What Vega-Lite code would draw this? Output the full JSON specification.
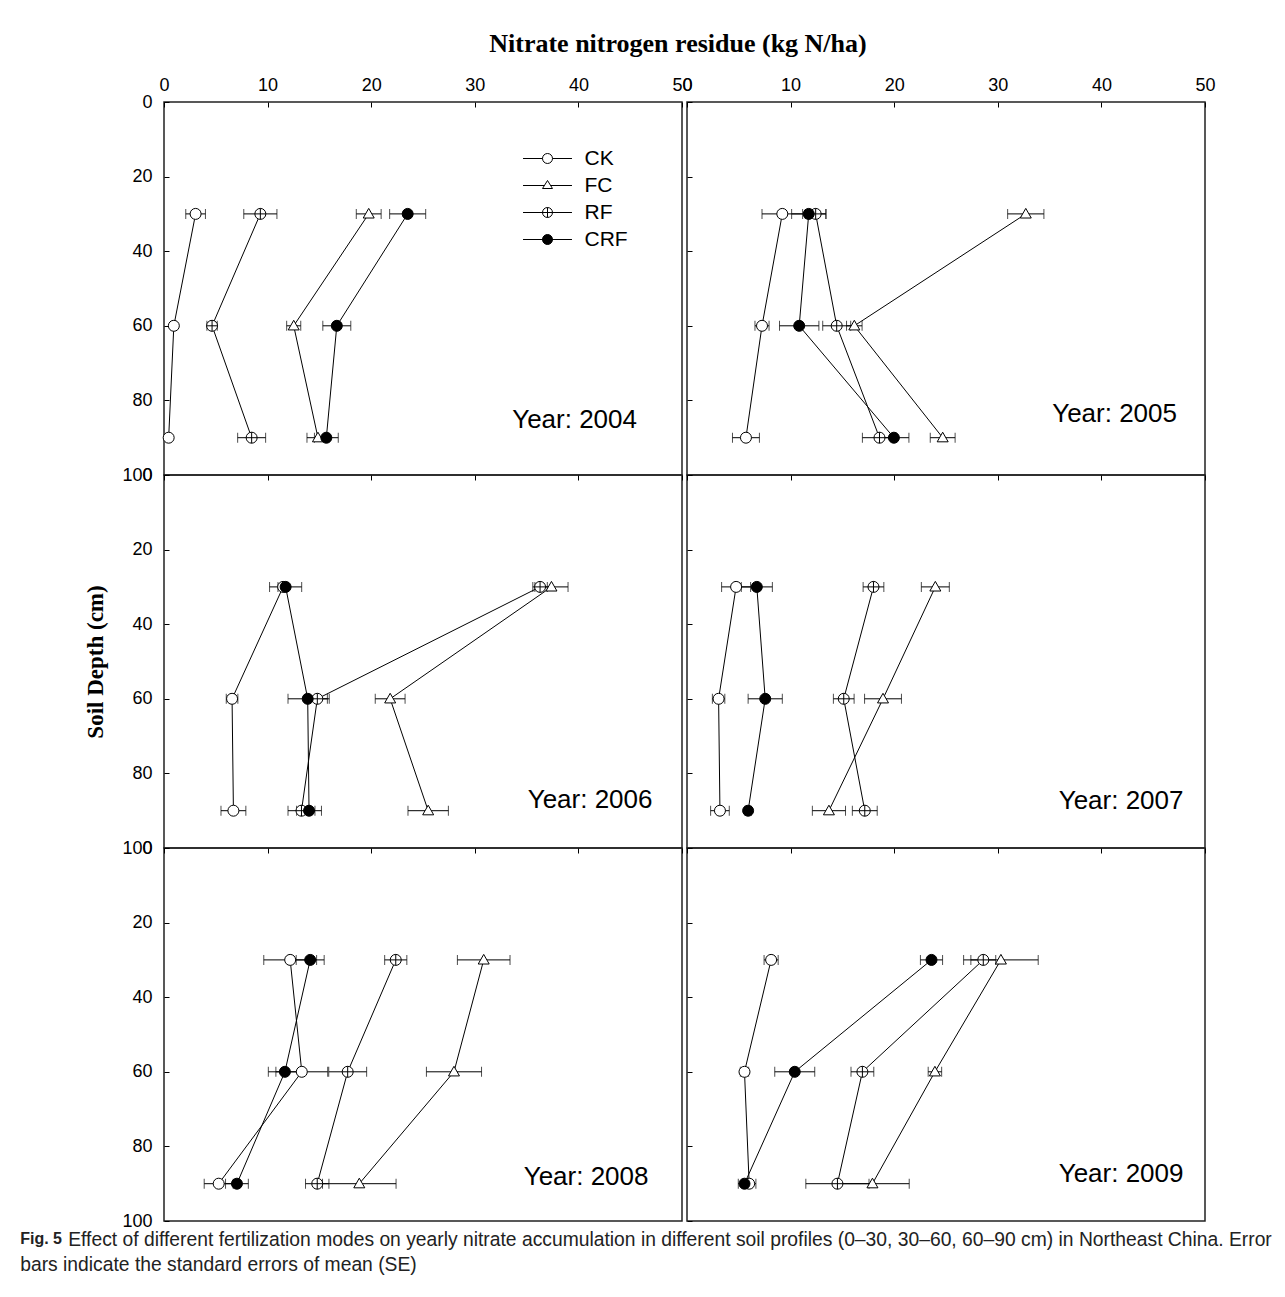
{
  "$schema": "https://vega.github.io/schema/vega-lite/v6.json",
  "background": "white",
  "padding": {"left": 20, "top": 31, "right": 5, "bottom": 5},
  "data": {"values": [
    {"year": 2004, "trt": "CK", "depth": 30, "n": 3.05, "lo": 2.1, "hi": 4.0},
    {"year": 2004, "trt": "CK", "depth": 60, "n": 0.95, "lo": 0.75, "hi": 1.15},
    {"year": 2004, "trt": "CK", "depth": 90, "n": 0.45, "lo": 0.3, "hi": 0.6},
    {"year": 2004, "trt": "FC", "depth": 30, "n": 19.76, "lo": 18.56, "hi": 20.96},
    {"year": 2004, "trt": "FC", "depth": 60, "n": 12.52, "lo": 11.84, "hi": 13.2},
    {"year": 2004, "trt": "FC", "depth": 90, "n": 14.86, "lo": 13.8, "hi": 15.9},
    {"year": 2004, "trt": "RF", "depth": 30, "n": 9.3, "lo": 7.7, "hi": 10.9},
    {"year": 2004, "trt": "RF", "depth": 60, "n": 4.64, "lo": 4.14, "hi": 5.14},
    {"year": 2004, "trt": "RF", "depth": 90, "n": 8.46, "lo": 7.11, "hi": 9.81},
    {"year": 2004, "trt": "CRF", "depth": 30, "n": 23.52, "lo": 21.78, "hi": 25.26},
    {"year": 2004, "trt": "CRF", "depth": 60, "n": 16.68, "lo": 15.33, "hi": 18.03},
    {"year": 2004, "trt": "CRF", "depth": 90, "n": 15.67, "lo": 14.52, "hi": 16.82},
    {"year": 2005, "trt": "CK", "depth": 30, "n": 9.2, "lo": 7.24, "hi": 11.16},
    {"year": 2005, "trt": "CK", "depth": 60, "n": 7.24, "lo": 6.56, "hi": 7.92},
    {"year": 2005, "trt": "CK", "depth": 90, "n": 5.69, "lo": 4.39, "hi": 6.99},
    {"year": 2005, "trt": "FC", "depth": 30, "n": 32.7, "lo": 30.95, "hi": 34.45},
    {"year": 2005, "trt": "FC", "depth": 60, "n": 16.15, "lo": 15.4, "hi": 16.9},
    {"year": 2005, "trt": "FC", "depth": 90, "n": 24.68, "lo": 23.48, "hi": 25.88},
    {"year": 2005, "trt": "RF", "depth": 30, "n": 12.42, "lo": 11.42, "hi": 13.42},
    {"year": 2005, "trt": "RF", "depth": 60, "n": 14.45, "lo": 13.1, "hi": 15.8},
    {"year": 2005, "trt": "RF", "depth": 90, "n": 18.58, "lo": 16.93, "hi": 20.23},
    {"year": 2005, "trt": "CRF", "depth": 30, "n": 11.75, "lo": 10.1, "hi": 13.4},
    {"year": 2005, "trt": "CRF", "depth": 60, "n": 10.83, "lo": 8.93, "hi": 12.73},
    {"year": 2005, "trt": "CRF", "depth": 90, "n": 19.97, "lo": 18.52, "hi": 21.42},
    {"year": 2006, "trt": "CK", "depth": 30, "n": 11.5, "lo": 11.0, "hi": 12.0},
    {"year": 2006, "trt": "CK", "depth": 60, "n": 6.57, "lo": 6.01, "hi": 7.13},
    {"year": 2006, "trt": "CK", "depth": 90, "n": 6.7, "lo": 5.5, "hi": 7.9},
    {"year": 2006, "trt": "FC", "depth": 30, "n": 37.4, "lo": 35.8, "hi": 39.0},
    {"year": 2006, "trt": "FC", "depth": 60, "n": 21.83, "lo": 20.39, "hi": 23.27},
    {"year": 2006, "trt": "FC", "depth": 90, "n": 25.5, "lo": 23.55, "hi": 27.45},
    {"year": 2006, "trt": "RF", "depth": 30, "n": 36.3, "lo": 35.6, "hi": 37.0},
    {"year": 2006, "trt": "RF", "depth": 60, "n": 14.8, "lo": 13.65, "hi": 15.95},
    {"year": 2006, "trt": "RF", "depth": 90, "n": 13.27, "lo": 11.97, "hi": 14.57},
    {"year": 2006, "trt": "CRF", "depth": 30, "n": 11.74, "lo": 10.19, "hi": 13.29},
    {"year": 2006, "trt": "CRF", "depth": 60, "n": 13.87, "lo": 11.97, "hi": 15.77},
    {"year": 2006, "trt": "CRF", "depth": 90, "n": 14.0, "lo": 12.8, "hi": 15.2},
    {"year": 2007, "trt": "CK", "depth": 30, "n": 4.74, "lo": 3.34, "hi": 6.14},
    {"year": 2007, "trt": "CK", "depth": 60, "n": 3.05, "lo": 2.45, "hi": 3.65},
    {"year": 2007, "trt": "CK", "depth": 90, "n": 3.18, "lo": 2.28, "hi": 4.08},
    {"year": 2007, "trt": "FC", "depth": 30, "n": 23.97, "lo": 22.62, "hi": 25.32},
    {"year": 2007, "trt": "FC", "depth": 60, "n": 18.92, "lo": 17.14, "hi": 20.7},
    {"year": 2007, "trt": "FC", "depth": 90, "n": 13.7, "lo": 12.1, "hi": 15.3},
    {"year": 2007, "trt": "RF", "depth": 30, "n": 18.0, "lo": 17.0, "hi": 19.0},
    {"year": 2007, "trt": "RF", "depth": 60, "n": 15.13, "lo": 14.13, "hi": 16.13},
    {"year": 2007, "trt": "RF", "depth": 90, "n": 17.16, "lo": 15.96, "hi": 18.36},
    {"year": 2007, "trt": "CRF", "depth": 30, "n": 6.74, "lo": 5.24, "hi": 8.24},
    {"year": 2007, "trt": "CRF", "depth": 60, "n": 7.55, "lo": 5.9, "hi": 9.2},
    {"year": 2007, "trt": "CRF", "depth": 90, "n": 5.9, "lo": 5.6, "hi": 6.2},
    {"year": 2008, "trt": "CK", "depth": 30, "n": 12.18, "lo": 9.63, "hi": 14.73},
    {"year": 2008, "trt": "CK", "depth": 60, "n": 13.3, "lo": 10.8, "hi": 15.8},
    {"year": 2008, "trt": "CK", "depth": 90, "n": 5.28, "lo": 3.88, "hi": 6.68},
    {"year": 2008, "trt": "FC", "depth": 30, "n": 30.86, "lo": 28.32, "hi": 33.4},
    {"year": 2008, "trt": "FC", "depth": 60, "n": 27.99, "lo": 25.33, "hi": 30.65},
    {"year": 2008, "trt": "FC", "depth": 90, "n": 18.85, "lo": 15.3, "hi": 22.4},
    {"year": 2008, "trt": "RF", "depth": 30, "n": 22.37, "lo": 21.3, "hi": 23.44},
    {"year": 2008, "trt": "RF", "depth": 60, "n": 17.73, "lo": 15.9, "hi": 19.56},
    {"year": 2008, "trt": "RF", "depth": 90, "n": 14.79, "lo": 13.66, "hi": 15.92},
    {"year": 2008, "trt": "CRF", "depth": 30, "n": 14.11, "lo": 12.76, "hi": 15.46},
    {"year": 2008, "trt": "CRF", "depth": 60, "n": 11.67, "lo": 10.07, "hi": 13.27},
    {"year": 2008, "trt": "CRF", "depth": 90, "n": 7.04, "lo": 5.94, "hi": 8.14},
    {"year": 2009, "trt": "CK", "depth": 30, "n": 8.12, "lo": 7.44, "hi": 8.8},
    {"year": 2009, "trt": "CK", "depth": 60, "n": 5.55, "lo": 5.15, "hi": 5.95},
    {"year": 2009, "trt": "CK", "depth": 90, "n": 6.0, "lo": 5.35, "hi": 6.65},
    {"year": 2009, "trt": "FC", "depth": 30, "n": 30.3, "lo": 26.7, "hi": 33.9},
    {"year": 2009, "trt": "FC", "depth": 60, "n": 23.93, "lo": 23.28, "hi": 24.58},
    {"year": 2009, "trt": "FC", "depth": 90, "n": 17.9, "lo": 14.35, "hi": 21.45},
    {"year": 2009, "trt": "RF", "depth": 30, "n": 28.6, "lo": 27.4, "hi": 29.8},
    {"year": 2009, "trt": "RF", "depth": 60, "n": 16.93, "lo": 15.83, "hi": 18.03},
    {"year": 2009, "trt": "RF", "depth": 90, "n": 14.52, "lo": 11.47, "hi": 17.57},
    {"year": 2009, "trt": "CRF", "depth": 30, "n": 23.6, "lo": 22.53, "hi": 24.67},
    {"year": 2009, "trt": "CRF", "depth": 60, "n": 10.4, "lo": 8.47, "hi": 12.33},
    {"year": 2009, "trt": "CRF", "depth": 90, "n": 5.55, "lo": 4.95, "hi": 6.15}
  ]},
  "title": {"text": "Fig. 5", "orient": "bottom", "anchor": "start", "font": "Liberation Sans", "fontSize": 16, "fontWeight": "bold", "color": "#222", "offset": -44},
  "vconcat": [
    {
      "title": {"text": "bars indicate the standard errors of mean (SE)", "orient": "bottom", "anchor": "start", "font": "Liberation Sans", "fontSize": 19.3, "fontWeight": "normal", "color": "#222", "dx": -48, "offset": 6},
      "vconcat": [
        {
          "title": {"text": "Effect of different fertilization modes on yearly nitrate accumulation in different soil profiles (0–30, 30–60, 60–90 cm) in Northeast China. Error", "orient": "bottom", "anchor": "start", "font": "Liberation Sans", "fontSize": 19.3, "fontWeight": "normal", "color": "#222", "dx": -16, "offset": 0},
          "vconcat": [
            {
              "title": {"text": "Nitrate nitrogen residue (kg N/ha)", "anchor": "middle", "font": "Liberation Serif", "fontSize": 26, "fontWeight": "bold", "color": "black", "dx": 28, "offset": 18},
              "columns": 2,
              "bounds": "flush",
              "spacing": {"row": 0, "column": 5},
              "resolve": {"scale": {"shape": "independent", "fill": "independent", "stroke": "independent"}, "legend": {"shape": "independent", "fill": "independent", "stroke": "independent"}},
              "concat": [
                {
                  "width": 518, "height": 373,
                  "title": {"text": "Year: 2004", "orient": "bottom", "anchor": "end", "offset": -56, "dx": -55, "baseline": "alphabetic", "font": "Liberation Sans", "fontSize": 26, "fontWeight": "normal", "color": "black"},
                  "transform": [{"filter": "datum.year == 2004"}],
                  "resolve": {"scale": {"shape": "independent", "fill": "independent", "stroke": "independent"}, "legend": {"shape": "independent", "fill": "independent", "stroke": "independent"}},
                  "encoding": {"y": {"field": "depth", "type": "quantitative", "scale": {"domain": [0, 100], "reverse": true, "nice": false, "zero": false}, "axis": {"orient": "left", "values": [0, 20, 40, 60, 80, 100], "title": null, "labels": true, "tickSize": -5, "labelPadding": 17}}},
                  "layer": [
                    {"mark": {"type": "errorbar", "ticks": {"size": 10, "color": "black"}, "color": "black", "thickness": 1}, "encoding": {"x": {"field": "lo", "type": "quantitative", "scale": {"domain": [0, 50], "nice": false, "zero": false}, "axis": {"orient": "top", "values": [0, 10, 20, 30, 40, 50], "title": null, "labels": true, "tickSize": -5, "labelPadding": 13}}, "x2": {"field": "hi"}}},
                    {"mark": {"type": "line", "color": "black", "strokeWidth": 1}, "encoding": {"x": {"field": "n", "type": "quantitative", "scale": {"domain": [0, 50], "nice": false, "zero": false}, "axis": {"orient": "top", "values": [0, 10, 20, 30, 40, 50], "title": null, "labels": true, "tickSize": -5, "labelPadding": 13}}, "detail": {"field": "trt"}, "order": {"field": "depth"}}},
                    {"mark": {"type": "point", "stroke": "black", "strokeWidth": 1, "opacity": 1, "fillOpacity": 1, "size": 121},
                     "encoding": {
                       "x": {"field": "n", "type": "quantitative", "scale": {"domain": [0, 50], "nice": false, "zero": false}, "axis": {"orient": "top", "values": [0, 10, 20, 30, 40, 50], "title": null, "labels": true, "tickSize": -5, "labelPadding": 13}},
                       "shape": {"field": "trt", "type": "nominal", "scale": {"domain": ["CK", "FC", "RF", "CRF"], "range": ["M-1,0A1,1 0 1,0 1,0A1,1 0 1,0 -1,0Z", "M0,-1L1,0.75L-1,0.75Z", "M-1,0A1,1 0 1,0 1,0A1,1 0 1,0 -1,0ZM-1,0L1,0M0,-1L0,1", "M-1,0A1,1 0 1,0 1,0A1,1 0 1,0 -1,0Z"]}, "legend": null},
                       "fill": {"field": "trt", "type": "nominal", "scale": {"domain": ["CK", "FC", "RF", "CRF"], "range": ["white", "white", "white", "black"]}, "legend": null}
                     }},
                    {"transform": [{"filter": "false"}],
                     "mark": {"type": "point", "strokeWidth": 1, "opacity": 1, "fillOpacity": 1, "size": 144},
                     "encoding": {
                       "x": {"field": "n", "type": "quantitative", "scale": {"domain": [0, 50], "nice": false, "zero": false}, "axis": {"orient": "top", "values": [0, 10, 20, 30, 40, 50], "title": null, "labels": true, "tickSize": -5, "labelPadding": 13}},
                       "shape": {"field": "trt", "type": "nominal", "scale": {"domain": ["CK", "FC", "RF", "CRF"], "range": ["M-4.08,0L-0.833,0M0.833,0L4.08,0M-0.833,0A0.833,0.833 0 1,0 0.833,0A0.833,0.833 0 1,0 -0.833,0Z", "M-4.08,0L-0.52,0M0.52,0L4.08,0M0,-0.833L0.833,0.5L-0.833,0.5Z", "M-4.08,0L4.08,0M0,-0.833L0,0.833M-0.833,0A0.833,0.833 0 1,0 0.833,0A0.833,0.833 0 1,0 -0.833,0Z", "M-4.08,0L4.08,0M-0.833,0A0.833,0.833 0 1,0 0.833,0A0.833,0.833 0 1,0 -0.833,0Z"]},
                         "legend": {"title": null, "orient": "none", "legendX": 373, "legendY": 46, "symbolSize": 144, "symbolStrokeWidth": 1, "labelFont": "Liberation Sans", "labelFontSize": 21, "labelColor": "black", "labelOffset": 26.5, "rowPadding": 5, "padding": 0}},
                       "fill": {"field": "trt", "type": "nominal", "scale": {"domain": ["CK", "FC", "RF", "CRF"], "range": ["white", "white", "white", "black"]},
                         "legend": {"title": null, "orient": "none", "legendX": 373, "legendY": 46, "symbolSize": 144, "symbolStrokeWidth": 1, "labelFont": "Liberation Sans", "labelFontSize": 21, "labelColor": "black", "labelOffset": 26.5, "rowPadding": 5, "padding": 0}},
                       "stroke": {"field": "trt", "type": "nominal", "scale": {"domain": ["CK", "FC", "RF", "CRF"], "range": ["black", "black", "black", "black"]},
                         "legend": {"title": null, "orient": "none", "legendX": 373, "legendY": 46, "symbolSize": 144, "symbolStrokeWidth": 1, "labelFont": "Liberation Sans", "labelFontSize": 21, "labelColor": "black", "labelOffset": 26.5, "rowPadding": 5, "padding": 0}}
                     }}
                  ]
                },
                {
                  "width": 518, "height": 373,
                  "title": {"text": "Year: 2005", "orient": "bottom", "anchor": "end", "offset": -54, "dx": -38, "baseline": "alphabetic", "font": "Liberation Sans", "fontSize": 26, "fontWeight": "normal", "color": "black"},
                  "transform": [{"filter": "datum.year == 2005"}],
                  "encoding": {"y": {"field": "depth", "type": "quantitative", "scale": {"domain": [0, 100], "reverse": true, "nice": false, "zero": false}, "axis": {"orient": "left", "values": [0, 20, 40, 60, 80, 100], "title": null, "labels": false, "tickSize": -5, "labelPadding": 17}}},
                  "layer": [
                    {"mark": {"type": "errorbar", "ticks": {"size": 10, "color": "black"}, "color": "black", "thickness": 1}, "encoding": {"x": {"field": "lo", "type": "quantitative", "scale": {"domain": [0, 50], "nice": false, "zero": false}, "axis": {"orient": "top", "values": [0, 10, 20, 30, 40, 50], "title": null, "labels": true, "tickSize": -5, "labelPadding": 13}}, "x2": {"field": "hi"}}},
                    {"mark": {"type": "line", "color": "black", "strokeWidth": 1}, "encoding": {"x": {"field": "n", "type": "quantitative", "scale": {"domain": [0, 50], "nice": false, "zero": false}, "axis": {"orient": "top", "values": [0, 10, 20, 30, 40, 50], "title": null, "labels": true, "tickSize": -5, "labelPadding": 13}}, "detail": {"field": "trt"}, "order": {"field": "depth"}}},
                    {"mark": {"type": "point", "stroke": "black", "strokeWidth": 1, "opacity": 1, "fillOpacity": 1, "size": 121},
                     "encoding": {
                       "x": {"field": "n", "type": "quantitative", "scale": {"domain": [0, 50], "nice": false, "zero": false}, "axis": {"orient": "top", "values": [0, 10, 20, 30, 40, 50], "title": null, "labels": true, "tickSize": -5, "labelPadding": 13}},
                       "shape": {"field": "trt", "type": "nominal", "scale": {"domain": ["CK", "FC", "RF", "CRF"], "range": ["M-1,0A1,1 0 1,0 1,0A1,1 0 1,0 -1,0Z", "M0,-1L1,0.75L-1,0.75Z", "M-1,0A1,1 0 1,0 1,0A1,1 0 1,0 -1,0ZM-1,0L1,0M0,-1L0,1", "M-1,0A1,1 0 1,0 1,0A1,1 0 1,0 -1,0Z"]}, "legend": null},
                       "fill": {"field": "trt", "type": "nominal", "scale": {"domain": ["CK", "FC", "RF", "CRF"], "range": ["white", "white", "white", "black"]}, "legend": null}
                     }}
                  ]
                },
                {
                  "width": 518, "height": 373,
                  "title": {"text": "Year: 2006", "orient": "bottom", "anchor": "end", "offset": -49, "dx": -30, "baseline": "alphabetic", "font": "Liberation Sans", "fontSize": 26, "fontWeight": "normal", "color": "black"},
                  "transform": [{"filter": "datum.year == 2006"}],
                  "encoding": {"y": {"field": "depth", "type": "quantitative", "scale": {"domain": [0, 100], "reverse": true, "nice": false, "zero": false}, "axis": {"orient": "left", "values": [0, 20, 40, 60, 80, 100], "title": "Soil Depth (cm)", "titleFont": "Liberation Serif", "titleFontSize": 23, "titleFontWeight": "bold", "titleColor": "black", "titlePadding": 14, "labels": true, "tickSize": -5, "labelPadding": 17}}},
                  "layer": [
                    {"mark": {"type": "errorbar", "ticks": {"size": 10, "color": "black"}, "color": "black", "thickness": 1}, "encoding": {"x": {"field": "lo", "type": "quantitative", "scale": {"domain": [0, 50], "nice": false, "zero": false}, "axis": {"orient": "top", "values": [0, 10, 20, 30, 40, 50], "title": null, "labels": false, "tickSize": -5, "labelPadding": 13}}, "x2": {"field": "hi"}}},
                    {"mark": {"type": "line", "color": "black", "strokeWidth": 1}, "encoding": {"x": {"field": "n", "type": "quantitative", "scale": {"domain": [0, 50], "nice": false, "zero": false}, "axis": {"orient": "top", "values": [0, 10, 20, 30, 40, 50], "title": null, "labels": false, "tickSize": -5, "labelPadding": 13}}, "detail": {"field": "trt"}, "order": {"field": "depth"}}},
                    {"mark": {"type": "point", "stroke": "black", "strokeWidth": 1, "opacity": 1, "fillOpacity": 1, "size": 121},
                     "encoding": {
                       "x": {"field": "n", "type": "quantitative", "scale": {"domain": [0, 50], "nice": false, "zero": false}, "axis": {"orient": "top", "values": [0, 10, 20, 30, 40, 50], "title": null, "labels": false, "tickSize": -5, "labelPadding": 13}},
                       "shape": {"field": "trt", "type": "nominal", "scale": {"domain": ["CK", "FC", "RF", "CRF"], "range": ["M-1,0A1,1 0 1,0 1,0A1,1 0 1,0 -1,0Z", "M0,-1L1,0.75L-1,0.75Z", "M-1,0A1,1 0 1,0 1,0A1,1 0 1,0 -1,0ZM-1,0L1,0M0,-1L0,1", "M-1,0A1,1 0 1,0 1,0A1,1 0 1,0 -1,0Z"]}, "legend": null},
                       "fill": {"field": "trt", "type": "nominal", "scale": {"domain": ["CK", "FC", "RF", "CRF"], "range": ["white", "white", "white", "black"]}, "legend": null}
                     }}
                  ]
                },
                {
                  "width": 518, "height": 373,
                  "title": {"text": "Year: 2007", "orient": "bottom", "anchor": "end", "offset": -40, "dx": -22, "baseline": "alphabetic", "font": "Liberation Sans", "fontSize": 26, "fontWeight": "normal", "color": "black"},
                  "transform": [{"filter": "datum.year == 2007"}],
                  "encoding": {"y": {"field": "depth", "type": "quantitative", "scale": {"domain": [0, 100], "reverse": true, "nice": false, "zero": false}, "axis": {"orient": "left", "values": [0, 20, 40, 60, 80, 100], "title": null, "labels": false, "tickSize": -5, "labelPadding": 17}}},
                  "layer": [
                    {"mark": {"type": "errorbar", "ticks": {"size": 10, "color": "black"}, "color": "black", "thickness": 1}, "encoding": {"x": {"field": "lo", "type": "quantitative", "scale": {"domain": [0, 50], "nice": false, "zero": false}, "axis": {"orient": "top", "values": [0, 10, 20, 30, 40, 50], "title": null, "labels": false, "tickSize": -5, "labelPadding": 13}}, "x2": {"field": "hi"}}},
                    {"mark": {"type": "line", "color": "black", "strokeWidth": 1}, "encoding": {"x": {"field": "n", "type": "quantitative", "scale": {"domain": [0, 50], "nice": false, "zero": false}, "axis": {"orient": "top", "values": [0, 10, 20, 30, 40, 50], "title": null, "labels": false, "tickSize": -5, "labelPadding": 13}}, "detail": {"field": "trt"}, "order": {"field": "depth"}}},
                    {"mark": {"type": "point", "stroke": "black", "strokeWidth": 1, "opacity": 1, "fillOpacity": 1, "size": 121},
                     "encoding": {
                       "x": {"field": "n", "type": "quantitative", "scale": {"domain": [0, 50], "nice": false, "zero": false}, "axis": {"orient": "top", "values": [0, 10, 20, 30, 40, 50], "title": null, "labels": false, "tickSize": -5, "labelPadding": 13}},
                       "shape": {"field": "trt", "type": "nominal", "scale": {"domain": ["CK", "FC", "RF", "CRF"], "range": ["M-1,0A1,1 0 1,0 1,0A1,1 0 1,0 -1,0Z", "M0,-1L1,0.75L-1,0.75Z", "M-1,0A1,1 0 1,0 1,0A1,1 0 1,0 -1,0ZM-1,0L1,0M0,-1L0,1", "M-1,0A1,1 0 1,0 1,0A1,1 0 1,0 -1,0Z"]}, "legend": null},
                       "fill": {"field": "trt", "type": "nominal", "scale": {"domain": ["CK", "FC", "RF", "CRF"], "range": ["white", "white", "white", "black"]}, "legend": null}
                     }}
                  ]
                },
                {
                  "width": 518, "height": 373,
                  "title": {"text": "Year: 2008", "orient": "bottom", "anchor": "end", "offset": -45, "dx": -34, "baseline": "alphabetic", "font": "Liberation Sans", "fontSize": 26, "fontWeight": "normal", "color": "black"},
                  "transform": [{"filter": "datum.year == 2008"}],
                  "encoding": {"y": {"field": "depth", "type": "quantitative", "scale": {"domain": [0, 100], "reverse": true, "nice": false, "zero": false}, "axis": {"orient": "left", "values": [0, 20, 40, 60, 80, 100], "title": null, "labels": true, "tickSize": -5, "labelPadding": 17}}},
                  "layer": [
                    {"mark": {"type": "errorbar", "ticks": {"size": 10, "color": "black"}, "color": "black", "thickness": 1}, "encoding": {"x": {"field": "lo", "type": "quantitative", "scale": {"domain": [0, 50], "nice": false, "zero": false}, "axis": {"orient": "top", "values": [0, 10, 20, 30, 40, 50], "title": null, "labels": false, "tickSize": -5, "labelPadding": 13}}, "x2": {"field": "hi"}}},
                    {"mark": {"type": "line", "color": "black", "strokeWidth": 1}, "encoding": {"x": {"field": "n", "type": "quantitative", "scale": {"domain": [0, 50], "nice": false, "zero": false}, "axis": {"orient": "top", "values": [0, 10, 20, 30, 40, 50], "title": null, "labels": false, "tickSize": -5, "labelPadding": 13}}, "detail": {"field": "trt"}, "order": {"field": "depth"}}},
                    {"mark": {"type": "point", "stroke": "black", "strokeWidth": 1, "opacity": 1, "fillOpacity": 1, "size": 121},
                     "encoding": {
                       "x": {"field": "n", "type": "quantitative", "scale": {"domain": [0, 50], "nice": false, "zero": false}, "axis": {"orient": "top", "values": [0, 10, 20, 30, 40, 50], "title": null, "labels": false, "tickSize": -5, "labelPadding": 13}},
                       "shape": {"field": "trt", "type": "nominal", "scale": {"domain": ["CK", "FC", "RF", "CRF"], "range": ["M-1,0A1,1 0 1,0 1,0A1,1 0 1,0 -1,0Z", "M0,-1L1,0.75L-1,0.75Z", "M-1,0A1,1 0 1,0 1,0A1,1 0 1,0 -1,0ZM-1,0L1,0M0,-1L0,1", "M-1,0A1,1 0 1,0 1,0A1,1 0 1,0 -1,0Z"]}, "legend": null},
                       "fill": {"field": "trt", "type": "nominal", "scale": {"domain": ["CK", "FC", "RF", "CRF"], "range": ["white", "white", "white", "black"]}, "legend": null}
                     }}
                  ]
                },
                {
                  "width": 518, "height": 373,
                  "title": {"text": "Year: 2009", "orient": "bottom", "anchor": "end", "offset": -40, "dx": -22, "baseline": "alphabetic", "font": "Liberation Sans", "fontSize": 26, "fontWeight": "normal", "color": "black"},
                  "transform": [{"filter": "datum.year == 2009"}],
                  "encoding": {"y": {"field": "depth", "type": "quantitative", "scale": {"domain": [0, 100], "reverse": true, "nice": false, "zero": false}, "axis": {"orient": "left", "values": [0, 20, 40, 60, 80, 100], "title": null, "labels": false, "tickSize": -5, "labelPadding": 17}}},
                  "layer": [
                    {"mark": {"type": "errorbar", "ticks": {"size": 10, "color": "black"}, "color": "black", "thickness": 1}, "encoding": {"x": {"field": "lo", "type": "quantitative", "scale": {"domain": [0, 50], "nice": false, "zero": false}, "axis": {"orient": "top", "values": [0, 10, 20, 30, 40, 50], "title": null, "labels": false, "tickSize": -5, "labelPadding": 13}}, "x2": {"field": "hi"}}},
                    {"mark": {"type": "line", "color": "black", "strokeWidth": 1}, "encoding": {"x": {"field": "n", "type": "quantitative", "scale": {"domain": [0, 50], "nice": false, "zero": false}, "axis": {"orient": "top", "values": [0, 10, 20, 30, 40, 50], "title": null, "labels": false, "tickSize": -5, "labelPadding": 13}}, "detail": {"field": "trt"}, "order": {"field": "depth"}}},
                    {"mark": {"type": "point", "stroke": "black", "strokeWidth": 1, "opacity": 1, "fillOpacity": 1, "size": 121},
                     "encoding": {
                       "x": {"field": "n", "type": "quantitative", "scale": {"domain": [0, 50], "nice": false, "zero": false}, "axis": {"orient": "top", "values": [0, 10, 20, 30, 40, 50], "title": null, "labels": false, "tickSize": -5, "labelPadding": 13}},
                       "shape": {"field": "trt", "type": "nominal", "scale": {"domain": ["CK", "FC", "RF", "CRF"], "range": ["M-1,0A1,1 0 1,0 1,0A1,1 0 1,0 -1,0Z", "M0,-1L1,0.75L-1,0.75Z", "M-1,0A1,1 0 1,0 1,0A1,1 0 1,0 -1,0ZM-1,0L1,0M0,-1L0,1", "M-1,0A1,1 0 1,0 1,0A1,1 0 1,0 -1,0Z"]}, "legend": null},
                       "fill": {"field": "trt", "type": "nominal", "scale": {"domain": ["CK", "FC", "RF", "CRF"], "range": ["white", "white", "white", "black"]}, "legend": null}
                     }}
                  ]
                }
              ]
            }
          ]
        }
      ]
    }
  ],
  "config": {
    "view": {"stroke": "#222", "strokeWidth": 1.5},
    "axis": {"domain": false, "tickColor": "black", "tickWidth": 1, "labelColor": "black", "labelFont": "Liberation Sans", "labelFontSize": 18, "grid": false, "labelFlush": false, "labelOverlap": false}
  }
}
